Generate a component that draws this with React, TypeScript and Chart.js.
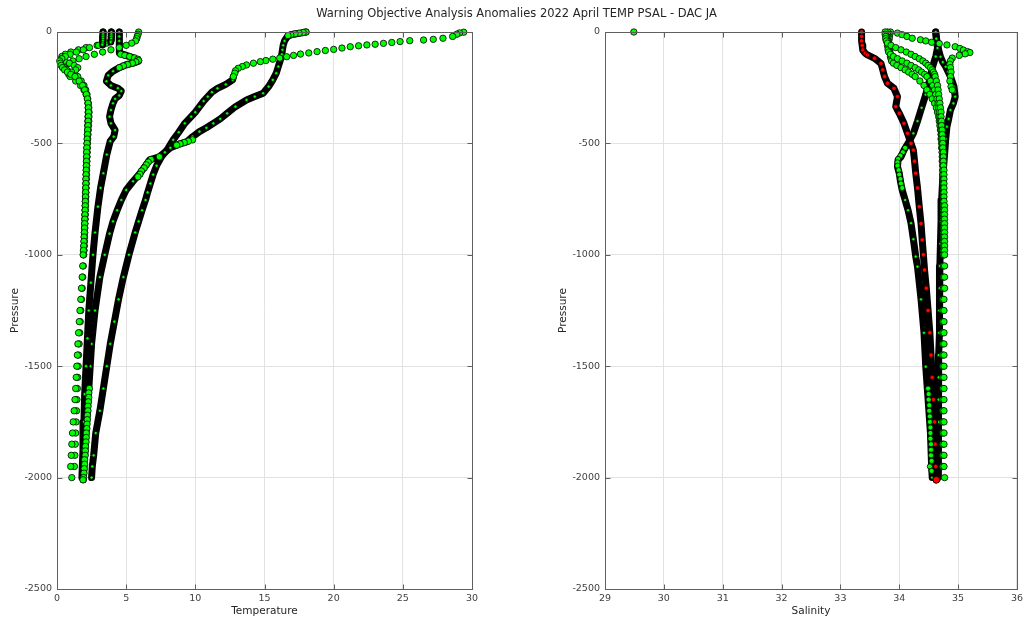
import React, { useEffect, useRef } from 'react';
import { Chart, registerables } from 'chart.js';

Chart.register(...registerables);

const TITLE = 'Warning Objective Analysis Anomalies 2022 April TEMP PSAL - DAC JA';
const GREEN = '#00ff00';
const RED = '#ff0000';
const FONT = "'DejaVu Sans', sans-serif";

// ---- axis ticks ----
const tempTicks = [0, 5, 10, 15, 20, 25, 30];
const salTicks = [29, 30, 31, 32, 33, 34, 35, 36];
const presTicks = [0, -500, -1000, -1500, -2000, -2500];

// ---- shared pressure levels of the sparse (green) profiles ----
const gPres = [0, -10, -20, -30, -40, -50, -60, -70, -80, -90, -100, -110, -120, -130, -140, -150, -160, -170, -180, -190, -200,
  -220, -240, -260, -280, -300, -320, -340, -360, -380, -400, -420, -440, -460, -480, -500, -520, -540, -560, -580, -600,
  -620, -640, -660, -680, -700, -720, -740, -760, -780, -800, -820, -840, -860, -880, -900, -920, -940, -960, -980, -1000,
  -1050, -1100, -1150, -1200, -1250, -1300, -1350, -1400, -1450, -1500, -1550, -1600, -1650, -1700, -1750, -1800, -1850, -1900, -1950, -2000];

// ---- temperature: sparse green profiles ----
const gl1Temp = [3.33, 3.33, 3.32, 3.32, 3.31, 3.3, 3.0, 2.35, 1.9, 1.4, 0.95, 0.6, 0.35, 0.2, 0.25, 0.3, 0.4, 0.55, 0.75, 1.0, 1.3,
  1.6, 1.85, 2.0, 2.12, 2.2, 2.25, 2.27, 2.28, 2.27, 2.25, 2.24, 2.22, 2.2, 2.18, 2.17, 2.15, 2.14, 2.14, 2.13, 2.12,
  2.11, 2.1, 2.09, 2.09, 2.08, 2.07, 2.06, 2.05, 2.04, 2.03, 2.02, 2.01, 2.0, 1.99, 1.98, 1.96, 1.95, 1.93, 1.91, 1.89,
  1.86, 1.82, 1.77, 1.72, 1.66, 1.61, 1.56, 1.51, 1.47, 1.43, 1.39, 1.35, 1.3, 1.24, 1.17, 1.12, 1.07, 1.03, 0.99, 1.07];
const gl2Temp = [3.93, 3.93, 3.92, 3.92, 3.9, 3.6, 2.9, 2.1, 1.55, 1.0, 0.6, 0.35, 0.35, 0.55, 0.9, 1.25, 1.5, 1.35, 1.05, 0.85, 0.95,
  1.35, 1.7, 1.95, 2.1, 2.2, 2.26, 2.3, 2.32, 2.31, 2.3, 2.28, 2.26, 2.24, 2.22, 2.2, 2.19, 2.18, 2.17, 2.16, 2.15,
  2.14, 2.13, 2.12, 2.11, 2.1, 2.09, 2.08, 2.07, 2.06, 2.05, 2.04, 2.03, 2.02, 2.01, 2.0, 1.99, 1.98, 1.97, 1.95, 1.93,
  1.9, 1.86, 1.82, 1.77, 1.72, 1.68, 1.64, 1.6, 1.56, 1.53, 1.5, 1.47, 1.44, 1.41, 1.38, 1.35, 1.32, 1.29, 1.26];
const gl3Temp = [5.9, 5.86, 5.8, 5.76, 5.68, 5.4, 5.0, 4.5, 3.9, 3.3, 2.7, 2.1, 1.6, 1.15, 0.8, 0.6, 0.55, 0.7, 0.95, 1.25, 1.5,
  1.75, 1.95, 2.08, 2.17, 2.22, 2.24, 2.25, 2.25, 2.24, 2.23, 2.22, 2.21, 2.2, 2.19, 2.18, 2.17, 2.16, 2.15, 2.14, 2.13,
  2.12, 2.11, 2.1, 2.09, 2.08, 2.07, 2.06, 2.05, 2.04, 2.03, 2.02, 2.01, 2.0, 1.99, 1.98, 1.97, 1.96, 1.95, 1.94, 1.92];

// ---- temperature: dense profiles ----
const taTopPres = [-1, -4, -10, -20, -28, -33, -36, -39, -43, -47, -51, -55, -58, -62, -66, -72, -78, -83, -88, -94,
  -99, -105, -111, -117, -122, -128, -133, -140, -148, -155, -163, -174, -185, -200];
const taTopTemp = [29.4, 29.1, 28.9, 28.6, 27.9, 27.2, 26.5, 25.5, 24.8, 24.2, 23.6, 23.0, 22.4, 21.8, 21.2, 20.6, 20.0, 19.4, 18.8, 18.2,
  17.6, 17.1, 16.6, 16.1, 15.6, 15.1, 14.7, 14.2, 13.7, 13.4, 13.1, 12.9, 12.85, 12.75];
const taPres = [-200, -215, -235, -253, -270, -290, -310, -335, -360, -380, -410, -450, -484, -510, -530, -560, -600, -640, -680, -720,
  -754, -800, -850, -900, -1000, -1100, -1200, -1300, -1400, -1500, -1600, -1700, -1800, -1900, -1950, -2000];
const taTemp = [12.75, 12.7, 12.2, 11.6, 11.2, 10.9, 10.6, 10.3, 10.0, 9.7, 9.24, 8.8, 8.4, 8.15, 7.95, 7.55, 7.2, 6.95, 6.75, 6.55,
  6.4, 6.15, 5.9, 5.65, 5.2, 4.8, 4.45, 4.15, 3.85, 3.6, 3.35, 3.1, 2.8, 2.65, 2.55, 2.5];

const tbPres = [0, -20, -40, -60, -80, -94, -105, -118, -131, -140, -147, -160, -176, -195, -221, -240, -252, -265, -285, -300,
  -320, -350, -380, -410, -440, -470, -490, -550, -634, -700, -784, -900, -1000, -1125, -1250, -1375, -1500, -1625, -1750, -1875, -2000];
const tbTemp = [4.5, 4.5, 4.5, 4.5, 4.5, 4.55, 5.0, 5.6, 5.9, 5.5, 5.0, 4.5, 4.05, 3.7, 3.57, 3.9, 4.4, 4.65, 4.5, 4.2,
  4.05, 3.9, 3.8, 3.9, 4.2, 4.1, 3.85, 3.6, 3.35, 3.15, 2.96, 2.75, 2.6, 2.45, 2.3, 2.2, 2.1, 2.0, 1.95, 1.88, 1.8];
const tbMidPres = [-100, -105, -110, -116, -122, -128, -134, -140, -146, -152, -160];
const tbMidTemp = [4.6, 4.9, 5.25, 5.6, 5.85, 5.9, 5.7, 5.45, 5.1, 4.8, 4.5];

const tcPres = [0, -5, -10, -15, -25, -40, -60, -80, -100, -125, -155, -185, -215, -245, -275, -290, -305, -335, -365,
  -390, -410, -430, -447, -470, -492, -502, -520, -540, -560, -574, -600, -634, -670, -709, -754, -800, -850, -905, -1000,
  -1100, -1250, -1400, -1500, -1650, -1800, -1950, -2010];
const tcTemp = [18.0, 17.6, 17.1, 16.8, 16.6, 16.45, 16.35, 16.3, 16.25, 16.15, 16.0, 15.85, 15.6, 15.3, 14.9, 14.3, 13.7, 12.9, 12.3,
  11.8, 11.3, 10.8, 10.3, 9.8, 9.4, 8.9, 8.2, 7.8, 7.4, 6.7, 6.4, 6.0, 5.5, 5.0, 4.65, 4.35, 4.05, 3.8, 3.45,
  3.1, 2.75, 2.5, 2.4, 2.25, 2.1, 1.95, 1.9];
const tcTopPres = [0, -2, -5, -8, -12, -16];
const tcTopTemp = [18.0, 17.8, 17.5, 17.2, 16.9, 16.7];
const tcMidPres = [-484, -490, -496, -502, -508, -560, -572, -584, -596, -610, -624, -638, -650];
const tcMidTemp = [9.8, 9.5, 9.2, 8.9, 8.65, 7.4, 6.8, 6.6, 6.45, 6.3, 6.1, 6.0, 5.85];

const tk1Pres = [0, -10, -20, -30, -40, -50, -57];
const tk1Temp = [3.33, 3.33, 3.32, 3.32, 3.31, 3.3, 3.28];
const tk2Pres = [0, -10, -20, -30, -40, -45];
const tk2Temp = [3.93, 3.93, 3.92, 3.92, 3.9, 3.88];

const gxPres = [-1600, -1620, -1640, -1660, -1680, -1700, -1720, -1740, -1760, -1780, -1800, -1820, -1840, -1860, -1880, -1900,
  -1920, -1940, -1960, -1980, -2000, -2010];
const gxTemp = [2.34, 2.3, 2.3, 2.27, 2.24, 2.24, 2.2, 2.19, 2.17, 2.16, 2.12, 2.11, 2.1, 2.06, 2.05, 2.04, 2.0, 2.0, 1.97, 1.95, 1.93, 1.88];

// ---- salinity: sparse green profiles ----
const g1Sal = [33.76, 33.76, 33.77, 33.77, 33.78, 33.8, 33.86, 33.94, 34.03, 34.12, 34.2, 34.27, 34.34, 34.4, 34.45, 34.49, 34.53, 34.56, 34.58, 34.6, 34.61,
  34.63, 34.65, 34.66, 34.67, 34.68, 34.69, 34.7, 34.71, 34.71, 34.72, 34.72, 34.73, 34.73, 34.74, 34.74, 34.74, 34.75, 34.75, 34.75, 34.75,
  34.76, 34.76, 34.76, 34.76, 34.76, 34.76, 34.76, 34.76, 34.77, 34.77, 34.77, 34.77, 34.77, 34.77, 34.77, 34.77, 34.77, 34.77, 34.77, 34.77,
  34.77, 34.77, 34.77, 34.76, 34.76, 34.76, 34.76, 34.76, 34.76, 34.76, 34.76, 34.76, 34.76, 34.76, 34.76, 34.76, 34.76, 34.76, 34.76, 34.77];
const g2Sal = [33.8, 33.8, 33.79, 33.79, 33.8, 33.8, 33.8, 33.81, 33.81, 33.82, 33.85, 33.9, 33.97, 34.05, 34.13, 34.2, 34.27, 34.33, 34.38, 34.43, 34.47,
  34.53, 34.57, 34.6, 34.62, 34.64, 34.66, 34.67, 34.68, 34.69, 34.7, 34.71, 34.71, 34.72, 34.72, 34.73, 34.73, 34.73, 34.74, 34.74, 34.74,
  34.74, 34.74, 34.75, 34.75, 34.75, 34.75, 34.75, 34.75, 34.75, 34.75, 34.75, 34.75, 34.75, 34.75, 34.75, 34.75, 34.75, 34.75, 34.75, 34.75,
  34.75, 34.75, 34.75, 34.74, 34.74, 34.74, 34.74, 34.74, 34.74, 34.74, 34.74, 34.74, 34.74, 34.74, 34.74, 34.74, 34.74, 34.74, 34.74];
const g3Sal = [33.85, 33.84, 33.83, 33.83, 33.82, 33.82, 33.83, 33.83, 33.84, 33.84, 33.85, 33.85, 33.86, 33.87, 33.9, 33.96, 34.03, 34.1, 34.16, 34.22, 34.27,
  34.35, 34.42, 34.47, 34.52, 34.56, 34.6, 34.63, 34.65, 34.67, 34.68, 34.69, 34.7, 34.71, 34.71, 34.72, 34.72, 34.73, 34.73, 34.73, 34.74,
  34.74, 34.74, 34.74, 34.74, 34.75, 34.75, 34.75, 34.75, 34.75, 34.75, 34.75, 34.75, 34.76, 34.76, 34.76, 34.76, 34.76, 34.76, 34.76, 34.76];

// ---- salinity: dense profiles ----
const r1Pres = [0, -20, -40, -60, -81, -95, -103, -118, -141, -170, -200, -230, -253, -290, -335, -365, -410, -455, -500, -530,
  -580, -634, -700, -784, -860, -933, -1000, -1068, -1150, -1250, -1350, -1450, -1550, -1650, -1750, -1850, -1950, -2010];
const r1Sal = [33.36, 33.36, 33.36, 33.37, 33.38, 33.42, 33.46, 33.58, 33.69, 33.72, 33.75, 33.8, 33.91, 33.97, 33.94, 34.0, 34.08, 34.14, 34.2, 34.24,
  34.26, 34.28, 34.31, 34.34, 34.37, 34.39, 34.41, 34.43, 34.46, 34.49, 34.52, 34.54, 34.56, 34.58, 34.6, 34.61, 34.62, 34.63];
const r2Pres = [0, -25, -51, -81, -111, -135, -156, -178, -200, -222, -245, -268, -290, -320, -350, -390, -425, -480, -550, -650,
  -754, -850, -950, -1050, -1150, -1250, -1350, -1450, -1550, -1650, -1750, -1850, -1950, -2000];
const r2Sal = [34.62, 34.63, 34.65, 34.67, 34.7, 34.74, 34.79, 34.83, 34.87, 34.9, 34.93, 34.94, 34.95, 34.92, 34.87, 34.84, 34.81, 34.79, 34.77, 34.74,
  34.72, 34.71, 34.7, 34.69, 34.69, 34.68, 34.68, 34.67, 34.67, 34.67, 34.67, 34.66, 34.66, 34.66];
const r4Pres = [0, -30, -72, -110, -161, -220, -281, -340, -400, -455, -490, -530, -560, -574, -605, -634, -670, -709, -754, -800,
  -858, -930, -1008, -1053, -1200, -1350, -1502, -1650, -1800, -1950, -2000];
const r4Sal = [34.62, 34.63, 34.65, 34.62, 34.56, 34.51, 34.45, 34.38, 34.31, 34.24, 34.17, 34.08, 34.03, 33.98, 33.97, 34.0, 34.02, 34.05, 34.1, 34.15,
  34.2, 34.24, 34.28, 34.31, 34.37, 34.42, 34.45, 34.49, 34.53, 34.55, 34.56];
const r4mPres = [-520, -540, -555, -570, -585, -600, -620, -640, -660, -680, -700];
const r4mSal = [34.1, 34.06, 34.02, 33.98, 33.97, 33.97, 33.99, 34.0, 34.02, 34.03, 34.05];
const r4bPres = [-1600, -1625, -1650, -1675, -1700, -1725, -1750, -1775, -1800, -1825, -1850, -1875, -1900, -1925, -1950, -1970];
const r4bSal = [34.49, 34.5, 34.5, 34.51, 34.51, 34.52, 34.52, 34.53, 34.53, 34.53, 34.54, 34.54, 34.54, 34.55, 34.52, 34.55];
const r5Pres = [-5, -12, -20, -28, -35, -40, -46, -52, -58, -66, -74, -81, -88, -92, -98, -105, -117, -130, -145, -160,
  -180, -200, -220, -245, -260];
const r5Sal = [33.97, 34.05, 34.13, 34.22, 34.36, 34.45, 34.55, 34.68, 34.81, 34.95, 35.03, 35.09, 35.16, 35.2, 35.12, 35.02, 34.9, 34.87, 34.86, 34.87,
  34.88, 34.87, 34.86, 34.88, 34.9];
const outPres = [0];
const outSal = [29.49];
const redPres = [-2010];
const redSal = [34.63];

const toXY = (vals: number[], pres: number[]) => vals.map((v, i) => ({ x: v, y: pres[i] }));

const sparse = (vals: number[], pres: number[], fill = GREEN, r = 3.2) => ({
  data: toXY(vals, pres),
  showLine: false,
  pointRadius: r,
  pointBackgroundColor: fill,
  pointBorderColor: '#000000',
  pointBorderWidth: 0.8,
  clip: false as const,
});

const dense = (vals: number[], pres: number[], fleck = GREEN, r = 1.6) => ({
  data: toXY(vals, pres),
  showLine: true,
  borderColor: '#000000',
  borderWidth: 7,
  borderJoinStyle: 'round' as const,
  borderCapStyle: 'round' as const,
  pointRadius: r,
  pointBackgroundColor: fleck,
  pointBorderColor: '#000000',
  pointBorderWidth: 0.6,
  clip: false as const,
});

const boxPlugin = {
  id: 'matlabBox',
  afterDraw(chart: any) {
    const { ctx, chartArea } = chart;
    const l = Math.round(chartArea.left) + 0.5;
    const r = Math.round(chartArea.right) + 0.5;
    const t = Math.round(chartArea.top) + 0.5;
    const b = Math.round(chartArea.bottom) + 0.5;
    ctx.save();
    ctx.strokeStyle = '#5f5f5f';
    ctx.lineWidth = 1;
    ctx.strokeRect(l, t, r - l, b - t);
    const tl = 5;
    ctx.beginPath();
    chart.scales.x.ticks.forEach((tk: any) => {
      const px = Math.round(chart.scales.x.getPixelForValue(tk.value)) + 0.5;
      ctx.moveTo(px, b); ctx.lineTo(px, b - tl);
      ctx.moveTo(px, t); ctx.lineTo(px, t + tl);
    });
    chart.scales.y.ticks.forEach((tk: any) => {
      const py = Math.round(chart.scales.y.getPixelForValue(tk.value)) + 0.5;
      ctx.moveTo(l, py); ctx.lineTo(l + tl, py);
      ctx.moveTo(r, py); ctx.lineTo(r - tl, py);
    });
    ctx.stroke();
    ctx.restore();
  },
};

const titlePlugin = {
  id: 'figTitle',
  afterDraw(chart: any) {
    const { ctx } = chart;
    ctx.save();
    ctx.font = `11.5px ${FONT}`;
    ctx.fillStyle = '#262626';
    ctx.textAlign = 'center';
    ctx.textBaseline = 'middle';
    ctx.fillText(TITLE, 516.5, 14);
    ctx.restore();
  },
};

function makeConfig(datasets: any[], xTicks: number[], xLabel: string, padding: any, withTitle: boolean) {
  const tickFont = { family: FONT, size: 9.5 };
  const labelFont = { family: FONT, size: 10.5 };
  return {
    type: 'scatter' as const,
    data: { datasets },
    options: {
      responsive: false,
      maintainAspectRatio: false,
      animation: false as const,
      events: [],
      layout: { padding },
      plugins: { legend: { display: false }, tooltip: { enabled: false }, title: { display: false } },
      scales: {
        x: {
          type: 'linear' as const,
          min: xTicks[0],
          max: xTicks[xTicks.length - 1],
          afterBuildTicks: (s: any) => { s.ticks = xTicks.map((v) => ({ value: v })); },
          afterFit: (s: any) => { s.height = 31; },
          grid: { color: '#e2e2e2', drawTicks: false, lineWidth: 1 },
          border: { display: false },
          ticks: { padding: 4, color: '#404040', font: tickFont, maxRotation: 0, autoSkip: false, callback: (v: any) => String(v) },
          title: { display: true, text: xLabel, color: '#262626', font: labelFont, padding: { top: 0, bottom: 2 } },
        },
        y: {
          type: 'linear' as const,
          min: presTicks[presTicks.length - 1],
          max: presTicks[0],
          afterBuildTicks: (s: any) => { s.ticks = presTicks.map((v) => ({ value: v })); },
          afterFit: (s: any) => { s.width = 57; },
          grid: { color: '#e2e2e2', drawTicks: false, lineWidth: 1 },
          border: { display: false },
          ticks: { padding: 5, color: '#404040', font: tickFont, autoSkip: false, callback: (v: any) => String(v) },
          title: { display: true, text: 'Pressure', color: '#262626', font: labelFont, padding: { top: 8.7, bottom: 0 } },
        },
      },
    },
    plugins: withTitle ? [boxPlugin, titlePlugin] : [boxPlugin],
  };
}

export default function App() {
  const leftRef = useRef<HTMLCanvasElement>(null);
  const rightRef = useRef<HTMLCanvasElement>(null);

  useEffect(() => {
    const tempSets = [
      sparse(gxTemp, gxPres),
      sparse(tcTopTemp, tcTopPres),
      sparse(tcMidTemp, tcMidPres),
      sparse(tbMidTemp, tbMidPres),
      sparse(taTopTemp, taTopPres),
      dense(tk1Temp, tk1Pres),
      dense(tk2Temp, tk2Pres),
      sparse(gl1Temp, gPres),
      sparse(gl2Temp, gPres),
      sparse(gl3Temp, gPres),
      dense(tbTemp, tbPres),
      dense(tcTemp, tcPres),
      dense(taTemp, taPres),
    ];
    const salSets = [
      sparse(redSal, redPres, RED, 3.4),
      sparse(outSal, outPres),
      sparse(r4bSal, r4bPres, GREEN, 2.6),
      sparse(r4mSal, r4mPres, GREEN, 2.6),
      sparse(r5Sal, r5Pres),
      sparse(g1Sal, gPres),
      sparse(g2Sal, gPres),
      sparse(g3Sal, gPres),
      dense(r1Sal, r1Pres, RED, 2.2),
      dense(r4Sal, r4Pres),
      dense(r2Sal, r2Pres),
    ];
    const c1 = new Chart(leftRef.current as HTMLCanvasElement, makeConfig(tempSets, tempTicks, 'Temperature',
      { left: 0, right: 555, top: 32, bottom: 0 }, true) as any);
    const c2 = new Chart(rightRef.current as HTMLCanvasElement, makeConfig(salSets, salTicks, 'Salinity',
      { left: 28, right: 7, top: 32, bottom: 0 }, false) as any);
    return () => { c1.destroy(); c2.destroy(); };
  }, []);

  return (
    <div style={{ position: 'absolute', left: 0, top: 0, width: 1027, height: 620, background: '#ffffff' }}>
      <canvas ref={leftRef} width={1027} height={620} style={{ position: 'absolute', left: 0, top: 0 }} />
      <canvas ref={rightRef} width={507} height={620} style={{ position: 'absolute', left: 520, top: 0 }} />
    </div>
  );
}
